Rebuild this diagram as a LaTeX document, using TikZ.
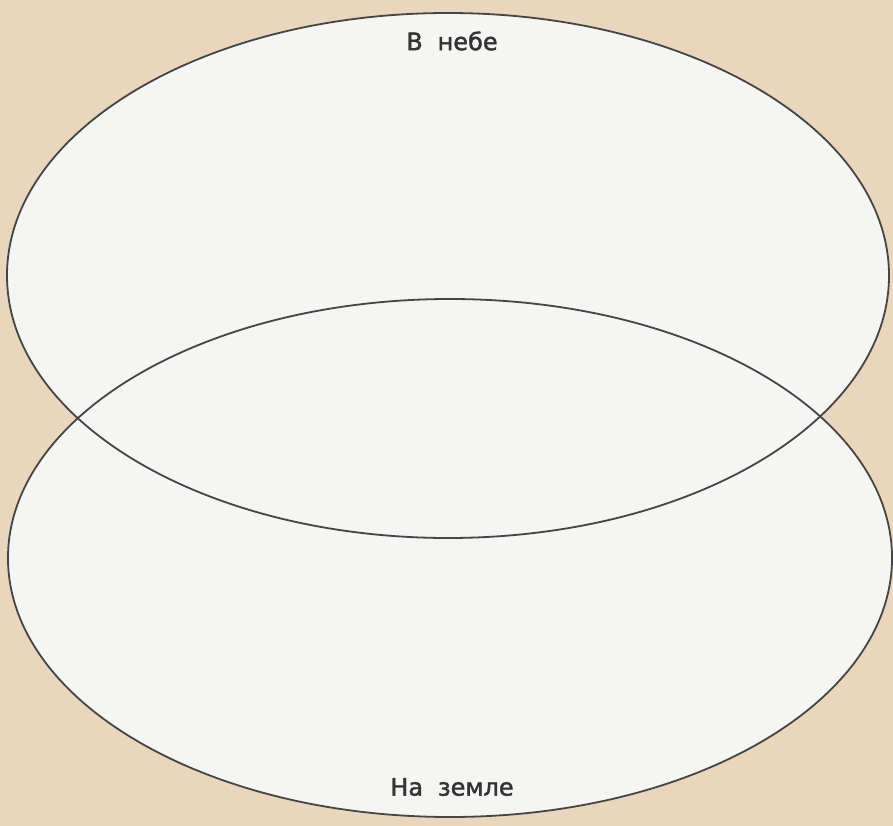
\documentclass[tikz,border=0pt]{standalone}
\usepackage{fontspec}
\setmainfont{DejaVu Sans}
\newfontfamily\labelfont[FakeBold=1.6]{DejaVu Sans}
\definecolor{paper}{HTML}{E9D6BC}
\definecolor{inside}{HTML}{F5F5F4}
\definecolor{ink}{HTML}{454545}
\definecolor{txt}{HTML}{333333}
\begin{document}
\begin{tikzpicture}[x=1pt,y=-1pt,
  setline/.style={draw=ink,line width=1.8pt},
  setlabel/.style={text=txt,font=\labelfont\fontsize{24}{28}\selectfont,inner sep=0pt}]
\useasboundingbox (0,0) rectangle (893,826);
\clip (0,0) rectangle (893,826);
\fill[paper] (0,0) rectangle (893,826);
% fills
\fill[inside] (448,275.5) ellipse [x radius=441, y radius=262.5];
\fill[inside] (450,558) ellipse [x radius=442, y radius=259];
% outlines
\draw[setline] (448,275.5) ellipse [x radius=441, y radius=262.5];
\draw[setline] (450,558) ellipse [x radius=442, y radius=259];
% labels
\node[setlabel] (sky) at (452,41) {В\hspace{0.3em} небе};
\node[setlabel] (earth) at (452,787) {На\hspace{0.3em} земле};
\end{tikzpicture}
\end{document}
